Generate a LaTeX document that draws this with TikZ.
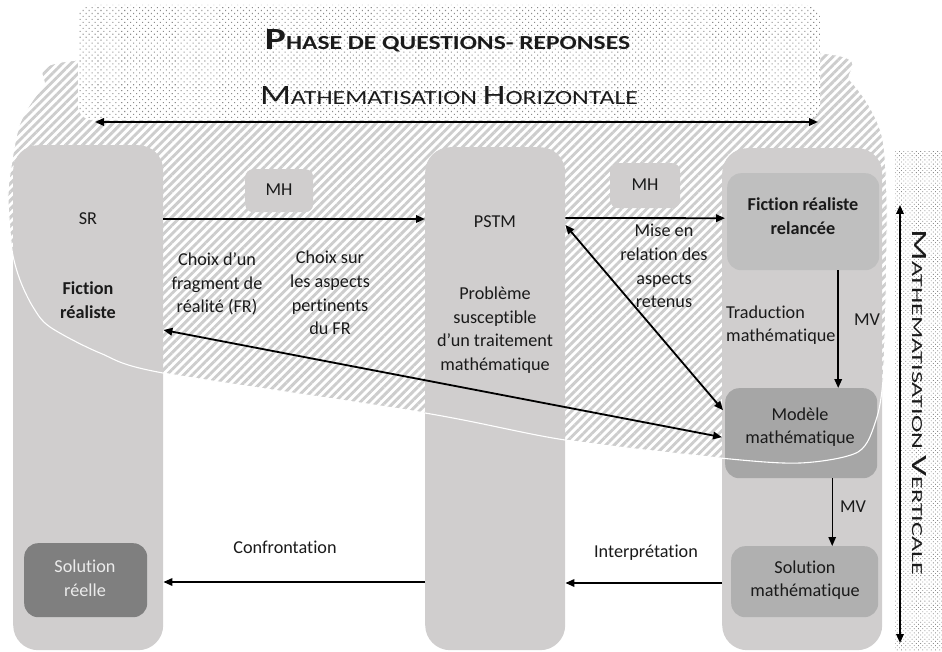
\documentclass[tikz,border=0pt]{standalone}
\usepackage{fontspec}
\setmainfont{Carlito}[Ligatures=NoCommon]
\usetikzlibrary{patterns.meta,arrows.meta}
\definecolor{colgray}{HTML}{D0CECE}
\definecolor{frrc}{HTML}{BFBFBF}
\definecolor{modc}{HTML}{A6A6A6}
\definecolor{solmc}{HTML}{B0B0B0}
\definecolor{solrc}{HTML}{7F7F7F}
\definecolor{hatchc}{HTML}{CDCDCD}
\definecolor{dotc}{HTML}{8C8C8C}
\definecolor{txtc}{HTML}{1A1A1A}
\begin{document}
\begin{tikzpicture}[x=1pt,y=-1pt,
  >={Triangle[length=9pt,width=7.5pt]},
  colbox/.style={fill=colgray, rounded corners=25pt, inner sep=0, anchor=north west},
  inbox/.style={rounded corners=14pt, inner sep=0, anchor=north west},
  lbl/.style={font=\fontsize{18.2}{23.7}\selectfont, text=txtc, align=center, inner sep=0},
  arr/.style={->, line width=1.8pt},
  darr/.style={<->, line width=1.8pt}]
\useasboundingbox (0,0) rectangle (942,652);
\def\hatchshape{plot[smooth cycle, tension=0.5] coordinates {(77,60) (450,48) (820,53) (850,80) (870,107) (883,140) (887,200) (886,300) (883,380) (876,420) (858,452) (800,463) (720,458) (565,440) (425,413) (163,373) (100,353) (50,327) (33,307) (20,280) (12,250) (8,200) (10,173) (20,123) (43,87)}}
% hatched zone
\path[pattern={Lines[angle=45,distance=6pt,line width=2.9pt]}, pattern color=hatchc] \hatchshape;
% columns
\node[colbox, minimum width=150pt, minimum height=505pt] (sr) at (13,145) {};
\node[colbox, minimum width=140pt, minimum height=503pt] (pstm) at (425,147) {};
\node[colbox, minimum width=160pt, minimum height=502pt] (rcol) at (722,148) {};
% inner boxes
\node[inbox, fill=frrc, minimum width=152pt, minimum height=97pt] (frr) at (727,173) {};
\node[inbox, fill=modc, minimum width=152pt, minimum height=90pt] (mod) at (725,388) {};
\node[inbox, fill=solmc, minimum width=147pt, minimum height=71pt] (solm) at (731,546) {};
\node[inbox, fill=solrc, minimum width=123pt, minimum height=74pt] (solr) at (24,543) {};
\node[inbox, fill=colgray, rounded corners=8pt, minimum width=68pt, minimum height=43pt] (mh1) at (245,169) {};
\node[inbox, fill=colgray, rounded corners=8pt, minimum width=70pt, minimum height=45pt] (mh2) at (610,163) {};
% white outline of the zone
\draw[white, line width=1.1pt] \hatchshape;
% dotted zones
\path[fill=white, rounded corners=14pt] (78,5) rectangle (820,120);
\path[pattern={Dots[radius=0.75pt,distance=4.2pt,angle=45]}, pattern color=dotc, rounded corners=14pt] (78,5) rectangle (820,120);
\path[pattern={Dots[radius=0.6pt,distance=3pt,angle=45]}, pattern color=dotc] (895,152) rectangle (942,650);
% titles
\node[anchor=base, inner sep=0, text=txtc] (titre) at (447.5,50) {\resizebox{365pt}{20pt}{\bfseries\fontsize{31}{31}\selectfont P\fontsize{20}{20}\selectfont HASE DE QUESTIONS- REPONSES}};
\node[anchor=base, inner sep=0, text=txtc] (mhtitre) at (449,105) {\resizebox{378pt}{18pt}{\fontsize{28}{28}\selectfont M\fontsize{20}{20}\selectfont ATHEMATISATION \fontsize{28}{28}\selectfont H\fontsize{20}{20}\selectfont ORIZONTALE}};
\node[anchor=base, inner sep=0, text=txtc, rotate=-90] (mvtitre) at (912,402.5) {\resizebox{345pt}{14pt}{\fontsize{22}{22}\selectfont M\fontsize{15.5}{15.5}\selectfont ATHEMATISATION \fontsize{22}{22}\selectfont V\fontsize{15.5}{15.5}\selectfont ERTICALE}};
\coordinate (hl) at (95,122);
\coordinate (hr) at (818,122);
\draw[darr, line width=2pt] (hl) -- (hr);
\coordinate (vt) at (900,205);
\coordinate (vb) at (900,643);
\draw[darr, line width=1.6pt] (vt) -- (vb);
% arrows
\draw[arr] ([yshift=-74pt]sr.north east) -- ([yshift=-72pt]pstm.north west);
\draw[arr] ([yshift=-71pt]pstm.north east) -- ([yshift=3.5pt,xshift=-2pt]frr.west);
\draw[darr] ([yshift=-78pt]pstm.north east) -- ([yshift=23pt,xshift=-2pt]mod.west);
\draw[darr] ([yshift=-4pt,xshift=-3pt]mod.west) -- ([yshift=-185pt]sr.north east);
\draw[arr] ([xshift=35pt]frr.south) -- ([xshift=35pt]frr.south |- mod.north);
\draw[arr, line width=1.3pt] ([xshift=31pt]mod.south) -- ([xshift=31pt]mod.south |- solm.north);
\draw[arr] ([yshift=-435pt]rcol.north west) -- ([yshift=-436pt]pstm.north east);
\draw[arr] ([yshift=-435pt]pstm.north west) -- ([yshift=-437pt]sr.north east);
% labels
\node[lbl] (lsr) at (88,219) {SR};
\node[lbl, font=\fontsize{18.2}{23.7}\selectfont\bfseries] (lfr) at (88,300) {Fiction\\réaliste};
\node[lbl] (lmh1) at (279,190) {MH};
\node[lbl] (lmh2) at (645,185) {MH};
\node[lbl] (lc1) at (217,284) {Choix d’un\\fragment de\\réalité (FR)};
\node[lbl] (lc2) at (330,293) {Choix sur\\les aspects\\pertinents\\du FR};
\node[lbl] (lpstm) at (495,222) {PSTM};
\node[lbl] (lpb) at (495,330) {Problème\\susceptible\\d’un traitement\\mathématique};
\node[lbl] (lmise) at (664,266) {Mise en\\relation des\\aspects\\retenus};
\node[lbl, font=\fontsize{18.2}{23.7}\selectfont\bfseries] (lfrr) at (803,216) {Fiction réaliste\\relancée};
\node[lbl, align=left, anchor=west] (ltrad) at (726,325) {Traduction\\mathématique};
\node[lbl] (lmv1) at (867,320) {MV};
\node[lbl] (lmod) at (800,427) {Modèle\\mathématique};
\node[lbl] (lmv2) at (853,507) {MV};
\node[lbl] (lsolm) at (805,580) {Solution\\mathématique};
\node[lbl, text=white!92!black] (lsolr) at (85,578) {Solution\\réelle};
\node[lbl] (lconf) at (285,547) {Confrontation};
\node[lbl] (linter) at (646,553) {Interprétation};
\end{tikzpicture}
\end{document}
